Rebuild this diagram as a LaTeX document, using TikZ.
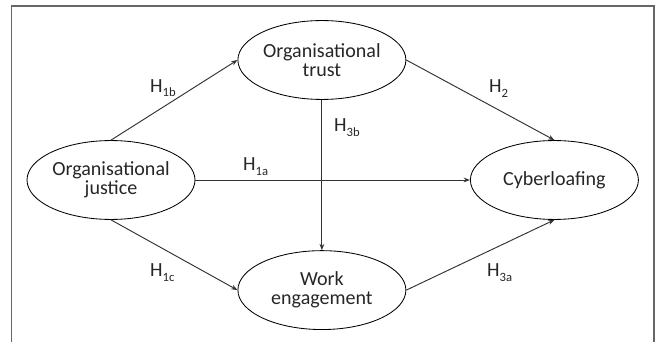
\documentclass[tikz,border=0pt]{standalone}
\usepackage{fontspec}
\setmainfont{Carlito}
\usetikzlibrary{shapes.geometric, arrows.meta}
\newcommand{\hyp}[1]{H\raisebox{-4.5pt}{\fontsize{12}{14}\selectfont #1}}

\begin{document}
\begin{tikzpicture}[>={Stealth[length=6pt, width=4.5pt]}, font=\fontsize{19}{18}\selectfont,
    var/.style={draw, ellipse, minimum width=5.6cm, minimum height=2.63cm, inner sep=0pt, align=center, line width=0.8pt, text=black!85},
    link/.style={->, line width=0.9pt, draw=black!80},
    hyp/.style={anchor=base west, inner sep=0pt, text=black!85}]
    \useasboundingbox (0,0) rectangle (22,11.4);
    \draw[black!60, line width=1.2pt] (0.383,0) -- (0.383,11.2) -- (21.8,11.2) -- (21.8,0);

    \node[var] (trust) at (10.73,9.4) {Organisational\\trust};
    \node[var] (justice) at (3.7,5.4) {Organisational\\justice};
    \node[var] (cyber) at (18.48,5.4) {Cyberloafing};
    \node[var] (work) at (10.73,1.73) {Work\\engagement};

    \draw[link] (justice.north) -- (trust.west);
    \draw[link] (justice.east) -- (cyber.west);
    \draw[link] (justice.south) -- (work.west);
    \draw[link] (trust.south) -- (work.north);
    \draw[link] (trust.east) -- (cyber.north);
    \draw[link] (work.east) -- (cyber.south);

    \node[hyp] (h1b) at (5.0,8.33) {\hyp{1b}};
    \node[hyp] (h1a) at (8.1,5.7) {\hyp{1a}};
    \node[hyp] (h1c) at (5.0,2.17) {\hyp{1c}};
    \node[hyp] (h3b) at (11.13,7.0) {\hyp{3b}};
    \node[hyp] (h2) at (16.3,8.3) {\hyp{2}};
    \node[hyp] (h3a) at (16.23,2.17) {\hyp{3a}};
\end{tikzpicture}
\end{document}
